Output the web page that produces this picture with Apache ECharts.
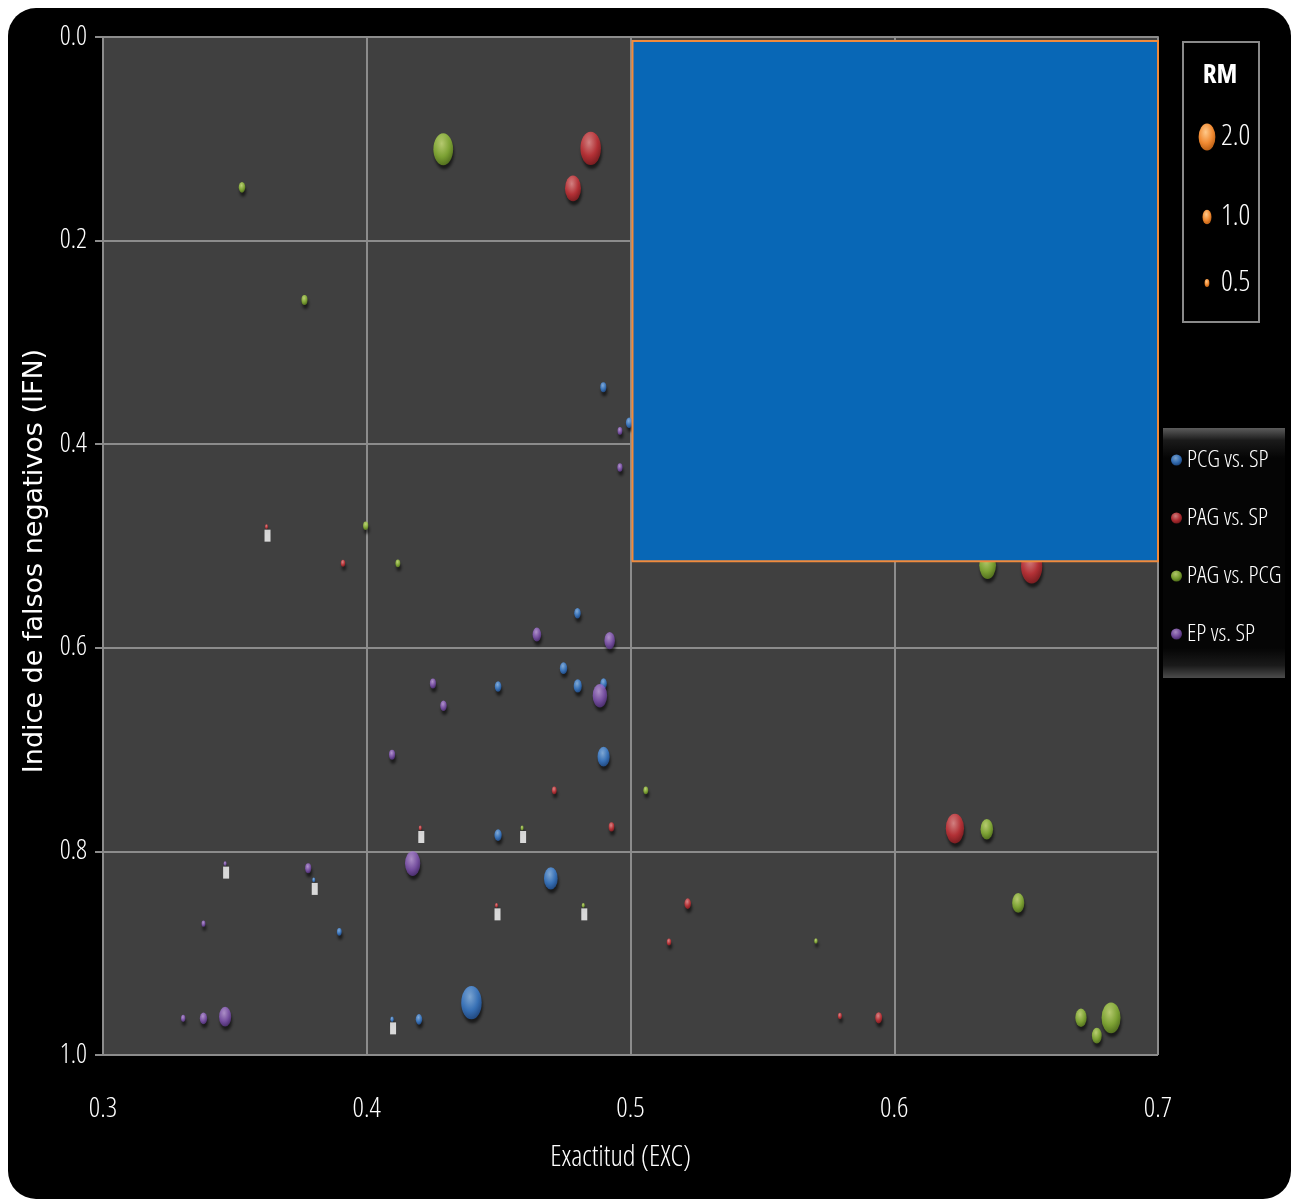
<!DOCTYPE html>
<html>
<head>
<meta charset="utf-8">
<title>Exactitud vs. IFN</title>
<script src="https://cdn.jsdelivr.net/npm/echarts@6/dist/echarts.min.js"></script>
<style>
  html, body { margin: 0; padding: 0; background: #ffffff; }
  #frame { position: absolute; left: 8px; top: 8px; width: 1283px; height: 1191px; background: #000; border-radius: 28px; }
  #chart { position: absolute; left: 0; top: 0; width: 1291px; height: 1199px; }
</style>
</head>
<body>
<div id="frame"></div>
<div id="chart"></div>
<script>
// Each point: [Exactitud (EXC), Indice de falsos negativos (IFN), RM]
const pcgVsSp = [
  [0.4897, 0.344, 0.65], [0.4995, 0.379, 0.7], [0.4799, 0.566, 0.7], [0.4746, 0.620, 0.8],
  [0.4498, 0.638, 0.7], [0.4800, 0.6375, 0.9], [0.4898, 0.635, 0.7], [0.4898, 0.707, 1.4],
  [0.4498, 0.784, 0.8], [0.4698, 0.8265, 1.6], [0.3799, 0.828, 0.3], [0.3896, 0.879, 0.5],
  [0.4397, 0.9486, 2.5], [0.4096, 0.965, 0.35], [0.4198, 0.965, 0.7]
];
const pagVsSp = [
  [0.4849, 0.1094, 2.5], [0.4782, 0.1487, 1.9], [0.362, 0.481, 0.3], [0.391, 0.517, 0.45],
  [0.6521, 0.520, 2.6], [0.4711, 0.740, 0.5], [0.4928, 0.776, 0.6], [0.4203, 0.777, 0.3],
  [0.6230, 0.7776, 2.2], [0.4492, 0.853, 0.3], [0.5217, 0.8513, 0.7], [0.5146, 0.889, 0.45],
  [0.5794, 0.9617, 0.4], [0.5941, 0.9635, 0.75]
];
const pagVsPcg = [
  [0.3527, 0.1477, 0.7], [0.4290, 0.1103, 2.4], [0.3764, 0.2583, 0.65], [0.3996, 0.480, 0.55],
  [0.4118, 0.517, 0.5], [0.6354, 0.519, 2.0], [0.5058, 0.740, 0.5], [0.4589, 0.777, 0.3],
  [0.6351, 0.7783, 1.45], [0.4821, 0.853, 0.3], [0.6470, 0.8506, 1.4], [0.5703, 0.888, 0.35],
  [0.6708, 0.9635, 1.3], [0.6768, 0.981, 1.1], [0.6822, 0.9635, 2.3]
];
const epVsSp = [
  [0.4960, 0.387, 0.5], [0.4960, 0.423, 0.55], [0.4645, 0.587, 0.95], [0.4921, 0.593, 1.2],
  [0.4251, 0.635, 0.65], [0.4884, 0.647, 1.7], [0.4291, 0.657, 0.7], [0.4096, 0.705, 0.65],
  [0.4174, 0.812, 1.8], [0.3463, 0.812, 0.3], [0.3778, 0.8166, 0.65], [0.3381, 0.871, 0.4],
  [0.3304, 0.964, 0.45], [0.3381, 0.964, 0.8], [0.3463, 0.9624, 1.4]
];
// Small blank markers that sit under some of the tiny bubbles
const blankMarks = [
  [0.362, 0.481], [0.4203, 0.777], [0.4589, 0.777], [0.3463, 0.812],
  [0.3799, 0.828], [0.4492, 0.853], [0.4821, 0.853], [0.4096, 0.965]
];
// Target region: [xMin, yMin, xMax, yMax]
const targetRegion = [[0.5, 0.0, 0.7, 0.515]];

const seriesNames = ['PCG vs. SP', 'PAG vs. SP', 'PAG vs. PCG', 'EP vs. SP'];
const rmLegendValues = [2.0, 1.0, 0.5];
const xTicks = { min: 0.3, max: 0.7, step: 0.1 };
const yTicks = { min: 0.0, max: 1.0, step: 0.2 };

// condensed, light Open Sans for most of the text
const NARROW = "'Open Sans', sans-serif";
const STRETCH = 'condensed';
const LIGHT = 'condensed 300';

// bubble width / height from RM
function bubbleSize(rm) {
  const w = 9 * Math.pow(rm, 0.9);
  return [w, w * 1.62];
}

function ball(light, mid, dark) {
  return {
    type: 'radial', x: 0.42, y: 0.32, r: 0.75,
    colorStops: [
      { offset: 0, color: light },
      { offset: 0.55, color: mid },
      { offset: 1, color: dark }
    ]
  };
}
const palette = [
  ball('#95c8ff', '#3f86dc', '#1c4a8c'),
  ball('#ff9a9a', '#d8363c', '#82181c'),
  ball('#dcf584', '#95c33a', '#557719'),
  ball('#cfaaf0', '#8c5cc0', '#4a2a74')
];
const orangeBall = ball('#ffc98a', '#f08a32', '#b0560e');

function bubbleSeries(name, data, color) {
  return {
    name: name,
    type: 'scatter',
    data: data,
    symbol: 'circle',
    symbolSize: function (v) { return bubbleSize(v[2]); },
    itemStyle: {
      color: color,
      shadowColor: 'rgba(0,0,0,0.75)',
      shadowBlur: 3,
      shadowOffsetX: 1,
      shadowOffsetY: 4
    },
    emphasis: { disabled: true },
    z: 3
  };
}

const chart = echarts.init(document.getElementById('chart'), null, { renderer: 'canvas' });

// RM size key
const rmKeyTop = [137, 217, 283];
const rmGraphics = [
  { type: 'rect', shape: { x: 1183, y: 42, width: 76, height: 280 },
    style: { fill: '#000', stroke: '#8a8a8a', lineWidth: 2 }, z: 10 },
  { type: 'text', x: 1220, y: 75,
    style: { text: 'RM', fill: '#fff', font: STRETCH + " bold 27px " + NARROW, align: 'center', verticalAlign: 'middle' }, z: 11 }
];
rmLegendValues.forEach(function (v, i) {
  const s = bubbleSize(v);
  rmGraphics.push({
    type: 'circle', x: 1207, y: rmKeyTop[i], scaleY: s[1] / s[0],
    shape: { cx: 0, cy: 0, r: s[0] / 2 },
    style: { fill: orangeBall, shadowColor: 'rgba(0,0,0,0.8)', shadowBlur: 2, shadowOffsetY: 3 }, z: 11
  });
  rmGraphics.push({
    type: 'text', x: 1221, y: rmKeyTop[i],
    style: { text: v.toFixed(1), fill: '#fff', font: LIGHT + " 29px " + NARROW, align: 'left', verticalAlign: 'middle' }, z: 11
  });
});

const option = {
  animation: false,
  backgroundColor: 'transparent',
  grid: {
    left: 103, right: 133, top: 37, bottom: 144,
    show: true, backgroundColor: '#404040', borderWidth: 0
  },
  xAxis: {
    type: 'value', min: xTicks.min, max: xTicks.max, interval: xTicks.step,
    name: 'Exactitud (EXC)', nameLocation: 'middle', nameGap: 88,
    nameTextStyle: { color: '#fff', fontFamily: NARROW, fontWeight: LIGHT, fontSize: 29, padding: [0, 20, 0, 0] },
    axisLine: { show: true, lineStyle: { color: '#8c8c8c', width: 2 } },
    axisTick: { show: true, length: 10, lineStyle: { color: '#8c8c8c', width: 2 } },
    axisLabel: { color: '#fff', fontFamily: NARROW, fontWeight: LIGHT, fontSize: 28, margin: 40,
      formatter: function (v) { return v.toFixed(1); } },
    splitLine: { show: true, lineStyle: { color: '#8c8c8c', width: 2 } }
  },
  yAxis: {
    type: 'value', inverse: true, min: yTicks.min, max: yTicks.max, interval: yTicks.step,
    name: 'Indice de falsos negativos (IFN)', nameLocation: 'middle', nameGap: 54, nameRotate: 90,
    nameTextStyle: { color: '#fff', fontFamily: "'DejaVu Sans', sans-serif", fontSize: 27, padding: [0, 30, 0, 0] },
    axisLine: { show: true, lineStyle: { color: '#8c8c8c', width: 2 } },
    axisTick: { show: true, length: 8, lineStyle: { color: '#8c8c8c', width: 2 } },
    axisLabel: { color: '#fff', fontFamily: NARROW, fontWeight: LIGHT, fontSize: 27, margin: 16,
      formatter: function (v) { return v.toFixed(1); } },
    splitLine: { show: true, lineStyle: { color: '#8c8c8c', width: 2 } }
  },
  legend: {
    orient: 'vertical', left: 1166, top: 443,
    data: seriesNames,
    icon: 'path://M50,0A50,50,0,1,1,49.99,0Z',
    itemWidth: 11, itemHeight: 17, itemGap: 34,
    textStyle: { color: '#fff', fontFamily: NARROW, fontWeight: LIGHT, fontSize: 24 },
    selectedMode: false, z: 12
  },
  graphic: [
    { type: 'rect', shape: { x: 1163, y: 428, width: 122, height: 250 },
      style: {
        fill: { type: 'linear', x: 0, y: 0, x2: 0, y2: 1, colorStops: [
          { offset: 0, color: '#5c5c5c' }, { offset: 0.05, color: '#1a1a1a' },
          { offset: 0.12, color: '#050505' }, { offset: 0.88, color: '#050505' },
          { offset: 0.95, color: '#1a1a1a' }, { offset: 1, color: '#4c4c4c' } ] }
      }, z: 9 }
  ].concat(rmGraphics),
  series: [
    bubbleSeries(seriesNames[0], pcgVsSp, palette[0]),
    bubbleSeries(seriesNames[1], pagVsSp, palette[1]),
    bubbleSeries(seriesNames[2], pagVsPcg, palette[2]),
    bubbleSeries(seriesNames[3], epVsSp, palette[3]),
    {
      name: 'marcas', type: 'scatter', data: blankMarks,
      symbol: 'rect', symbolSize: [6, 12], symbolOffset: [1, 9],
      itemStyle: { color: '#ffffff' }, emphasis: { disabled: true }, z: 4
    },
    {
      name: 'region', type: 'custom', data: targetRegion, z: 6,
      renderItem: function (params, api) {
        const p0 = api.coord([api.value(0), api.value(1)]);
        const p1 = api.coord([api.value(2), api.value(3)]);
        return {
          type: 'rect',
          shape: { x: p0[0] + 2, y: p0[1] + 4, width: p1[0] - p0[0] - 2, height: p1[1] - p0[1] - 4 },
          style: { fill: '#0867b6', stroke: '#f08a3c', lineWidth: 2 }
        };
      },
      encode: { x: [0, 2], y: [1, 3] },
      silent: true
    }
  ]
};
chart.setOption(option);
</script>
</body>
</html>
